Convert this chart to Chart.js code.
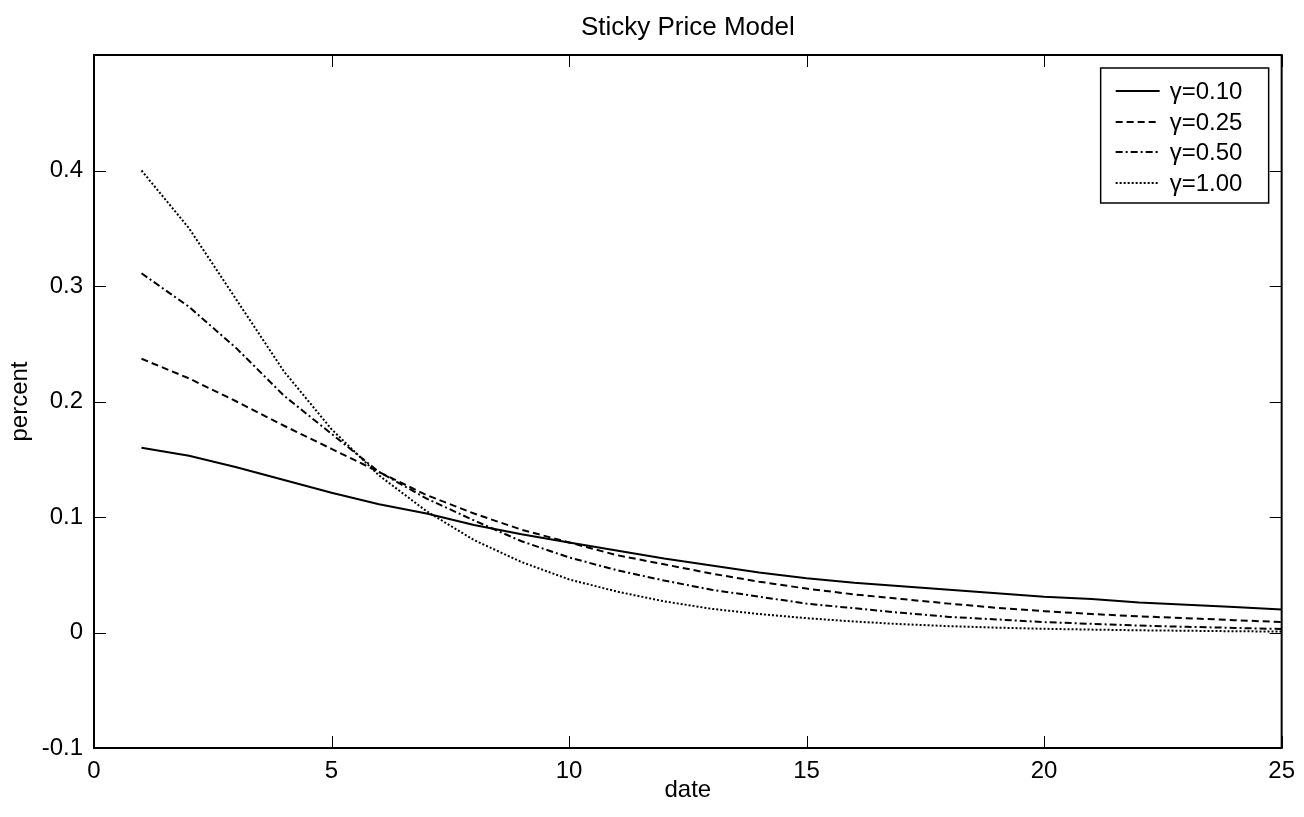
<!DOCTYPE html>
<html>
<head>
<meta charset="utf-8">
<script src="https://cdn.jsdelivr.net/npm/chart.js@4/dist/chart.umd.min.js"></script>
<style>
  html, body { margin: 0; padding: 0; background: #fff; }
  #wrap { width: 1304px; height: 817px; }
</style>
</head>
<body>
<div id="wrap"><canvas id="c" width="1304" height="817"></canvas></div>
<script>
// Periods after the shock
const dates = [1, 2, 3, 4, 5, 6, 7, 8, 9, 10, 11, 12, 13, 14, 15, 16, 17, 18, 19, 20, 21, 22, 23, 24, 25];

// Inflation response (percent) for each stickiness parameter
const gamma010 = [0.160, 0.153, 0.143, 0.132, 0.121, 0.111, 0.103, 0.093, 0.085, 0.078, 0.071, 0.064, 0.058, 0.052, 0.047, 0.043, 0.040, 0.037, 0.034, 0.031, 0.029, 0.026, 0.024, 0.022, 0.020];
const gamma025 = [0.237, 0.220, 0.200, 0.179, 0.159, 0.139, 0.119, 0.103, 0.089, 0.078, 0.067, 0.059, 0.051, 0.044, 0.038, 0.033, 0.029, 0.025, 0.0214, 0.0185, 0.016, 0.014, 0.0124, 0.0107, 0.009];
const gamma050 = [0.311, 0.282, 0.246, 0.205, 0.172, 0.139, 0.116, 0.097, 0.079, 0.065, 0.054, 0.045, 0.037, 0.031, 0.025, 0.021, 0.017, 0.0135, 0.0113, 0.009, 0.0075, 0.006, 0.0049, 0.004, 0.003];
const gamma100 = [0.400, 0.350, 0.288, 0.226, 0.176, 0.136, 0.105, 0.080, 0.061, 0.046, 0.0355, 0.027, 0.0205, 0.016, 0.0124, 0.0095, 0.0072, 0.0055, 0.0042, 0.0032, 0.0025, 0.0019, 0.0015, 0.0011, 0.0008];

const seriesLabels = ['\u03B3=0.10', '\u03B3=0.25', '\u03B3=0.50', '\u03B3=1.00'];

// Axis ticks
const xTickLabels = ['0', '5', '10', '15', '20', '25'];
const yTickLabels = ['-0.1', '0', '0.1', '0.2', '0.3', '0.4', ''];

const chartTitle = 'Sticky Price Model';

const FONT = '"Liberation Sans", Arial, Helvetica, sans-serif';
Chart.defaults.color = '#000';
Chart.defaults.font.family = FONT;

const series = [gamma010, gamma025, gamma050, gamma100];
const dashes = [[], [7, 4], [7, 3, 2, 3], [2, 2]];

const datasets = series.map((vals, i) => ({
  label: seriesLabels[i],
  data: dates.map((d, j) => ({ x: d, y: vals[j] })),
  borderColor: '#000',
  borderWidth: 2,
  borderDash: dashes[i],
  pointRadius: 0,
  tension: 0,
  fill: false
}));

// Title centred over the plot, box around the axes, inward ticks on all four sides, and the legend
const axesBox = {
  id: 'axesBox',
  afterDatasetsDraw(chart) {
    const { ctx, chartArea: a, scales: { x, y } } = chart;
    const tl = 12;
    ctx.save();

    ctx.fillStyle = '#000';
    ctx.font = '26px ' + FONT;
    ctx.textAlign = 'center';
    ctx.textBaseline = 'alphabetic';
    ctx.fillText(chartTitle, (a.left + a.right) / 2, a.top - 20);

    ctx.strokeStyle = '#000';
    ctx.lineWidth = 1;
    ctx.beginPath();
    x.ticks.forEach(t => {
      const px = Math.round(x.getPixelForValue(t.value)) + 0.5;
      ctx.moveTo(px, a.bottom); ctx.lineTo(px, a.bottom - tl);
      ctx.moveTo(px, a.top); ctx.lineTo(px, a.top + tl);
    });
    y.ticks.forEach(t => {
      const py = Math.round(y.getPixelForValue(t.value)) + 0.5;
      ctx.moveTo(a.left, py); ctx.lineTo(a.left + tl, py);
      ctx.moveTo(a.right, py); ctx.lineTo(a.right - tl, py);
    });
    ctx.stroke();
    ctx.lineWidth = 2;
    ctx.strokeRect(a.left, a.top, a.right - a.left, a.bottom - a.top);

    // legend
    const w = 168, h = 135;
    const lx = a.right - 13 - w, ly = a.top + 13;
    ctx.fillStyle = '#fff';
    ctx.fillRect(lx, ly, w, h);
    ctx.lineWidth = 1.5;
    ctx.strokeRect(lx, ly, w, h);
    ctx.font = '24px ' + FONT;
    ctx.textAlign = 'left';
    ctx.textBaseline = 'middle';
    ctx.fillStyle = '#000';
    const rows = [23, 54, 84, 115];
    chart.data.datasets.forEach((ds, i) => {
      const ry = ly + rows[i];
      ctx.lineWidth = 2;
      ctx.setLineDash(ds.borderDash);
      ctx.beginPath();
      ctx.moveTo(lx + 15, ry); ctx.lineTo(lx + 59, ry);
      ctx.stroke();
      ctx.setLineDash([]);
      ctx.fillText(ds.label, lx + 69, ry + 1);
    });
    ctx.restore();
  }
};

new Chart(document.getElementById('c'), {
  type: 'line',
  data: { datasets },
  plugins: [axesBox],
  options: {
    responsive: false,
    animation: false,
    layout: { padding: { left: 0, right: 20, top: 55, bottom: 0 } },
    plugins: {
      legend: { display: false },
      tooltip: { enabled: false },
      title: { display: false }
    },
    scales: {
      x: {
        type: 'linear',
        min: 0, max: 25,
        grid: { display: false, drawTicks: false },
        border: { display: false },
        ticks: {
          stepSize: 5, autoSkip: false, maxRotation: 0, padding: 9,
          font: { size: 24 },
          callback: (v, i) => xTickLabels[i]
        },
        title: { display: true, text: 'date', font: { size: 24 }, padding: { top: 0, bottom: 12 } },
        afterFit: s => { s.height = 69; }
      },
      y: {
        type: 'linear',
        min: -0.1, max: 0.5,
        grid: { display: false, drawTicks: false },
        border: { display: false },
        ticks: {
          stepSize: 0.1, autoSkip: false, padding: 11,
          font: { size: 24 },
          callback: (v, i) => yTickLabels[i]
        },
        title: { display: true, text: 'percent', font: { size: 24 }, padding: { top: 6, bottom: 0 } },
        afterFit: s => { s.width = 94; }
      }
    }
  }
});
</script>
</body>
</html>
